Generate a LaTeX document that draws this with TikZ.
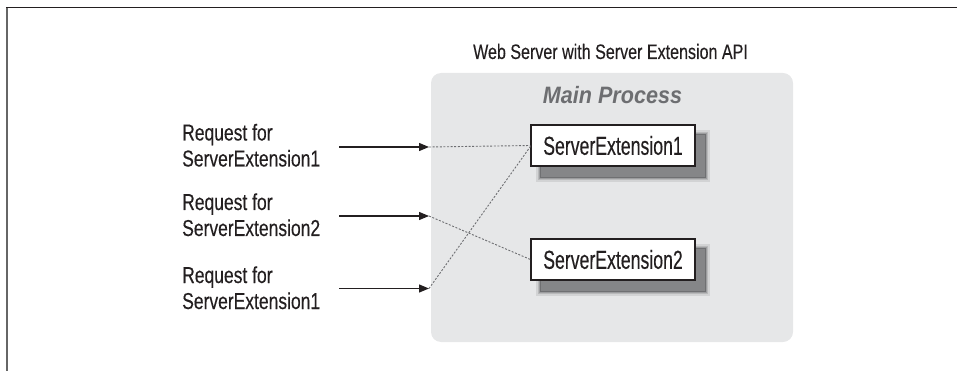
\documentclass[tikz,border=0pt]{standalone}
\usepackage{fontspec}
\setmainfont{Liberation Sans}
% condensed cuts of the same sans family
\newfontfamily\reqfont[FakeStretch=0.76,FakeBold=0.3]{Liberation Sans}
\newfontfamily\titlefont[FakeStretch=0.765,FakeBold=0.3]{Liberation Sans}
\newfontfamily\extfont[FakeStretch=0.68,FakeBold=0.3]{Liberation Sans}
\newfontfamily\procfont[FakeStretch=0.91]{Liberation Sans}
\usetikzlibrary{arrows.meta,calc}

\definecolor{panelgray}{HTML}{E6E7E8}
\definecolor{proctext}{HTML}{6D6E71}
\definecolor{dotgray}{HTML}{6D6E71}
\definecolor{inkblack}{HTML}{231F20}
\definecolor{shadeA}{HTML}{D2D3D4}
\definecolor{shadeB}{HTML}{B8B9BA}
\definecolor{shadeC}{HTML}{9C9D9F}
\definecolor{shadeD}{HTML}{6F7072}
\definecolor{shadeE}{HTML}{858688}

\tikzset{
  reqlabel/.style={anchor=base west, align=left, inner sep=0pt, text=inkblack,
    font=\reqfont\fontsize{23}{26}\selectfont},
  extbox/.style={draw=inkblack, line width=1.2pt, fill=white, inner sep=0pt,
    minimum width=164pt, minimum height=41pt, text=inkblack,
    font=\extfont\fontsize{26}{30}\selectfont},
  reqarrow/.style={draw=inkblack, line width=1.2pt, -{Triangle[length=10pt,width=8pt]}},
  dispatch/.style={draw=dotgray, line width=0.9pt, dash pattern=on 2pt off 1.6pt},
}

% soft drop shadow behind an extension box
\newcommand{\extshadow}[1]{%
  \fill[shadeA] ($(#1.north west)+(6,6)$) rectangle ($(#1.south east)+(14,15)$);
  \fill[shadeB] ($(#1.north west)+(7.5,7.5)$) rectangle ($(#1.south east)+(12.5,13.5)$);
  \fill[shadeC] ($(#1.north west)+(9,9)$) rectangle ($(#1.south east)+(11,12)$);
  \fill[shadeD] ($(#1.north west)+(10,10)$) rectangle ($(#1.south east)+(10,11)$);
  \fill[shadeE] ($(#1.north west)+(11,11)$) rectangle ($(#1.south east)+(9,10)$);
}

\begin{document}
\begin{tikzpicture}[x=1pt, y=-1pt]
\useasboundingbox (0,0) rectangle (957,371);

% outer frame (top and left rules)
\draw[draw=black!60, line width=2pt] (7,7.5) -- (7,371);
\draw[draw=inkblack, line width=1.8pt] (6,7.5) -- (957,7.5);

% server panel
\fill[panelgray, rounded corners=10pt] (431,73) rectangle (793,342);

\node[font=\titlefont\fontsize{21}{24}\selectfont, text=inkblack, anchor=base]
  (title) at (610.5,59) {Web Server with Server Extension API};
\node[font=\procfont\bfseries\itshape\fontsize{23.7}{28}\selectfont, text=proctext, anchor=base]
  (proc) at (612.5,104) {Main Process};

% extension boxes: placed, shadows, then drawn on top
\path (613,145.5) coordinate (c1) (613,259.5) coordinate (c2);
\node[extbox, draw=none, fill=none] (b1s) at (c1) {};
\node[extbox, draw=none, fill=none] (b2s) at (c2) {};
\extshadow{b1s}
\extshadow{b2s}
\node[extbox] (ext1) at (c1) {ServerExtension1};
\node[extbox] (ext2) at (c2) {ServerExtension2};

% incoming requests (anchored on the baseline of the second line)
\node[reqlabel] (req1) at (182,166.5) {Request for\\ServerExtension1};
\node[reqlabel] (req2) at (182,236) {Request for\\ServerExtension2};
\node[reqlabel] (req3) at (182,309) {Request for\\ServerExtension1};

\coordinate (s1) at (339,147);   \coordinate (e1) at (429,147);
\coordinate (s2) at (339,216);   \coordinate (e2) at (429,216);
\coordinate (s3) at (339,288.5); \coordinate (e3) at (429,288.5);

\draw[reqarrow] (s1) -- (e1);
\draw[reqarrow] (s2) -- (e2);
\draw[reqarrow] (s3) -- (e3);

% dispatch to the extension instances
\draw[dispatch] (e1) -- (ext1.west);
\draw[dispatch] (e2) -- (ext2.west);
\draw[dispatch] (e3) -- ($(ext1.west)+(0,1)$);
\end{tikzpicture}
\end{document}
